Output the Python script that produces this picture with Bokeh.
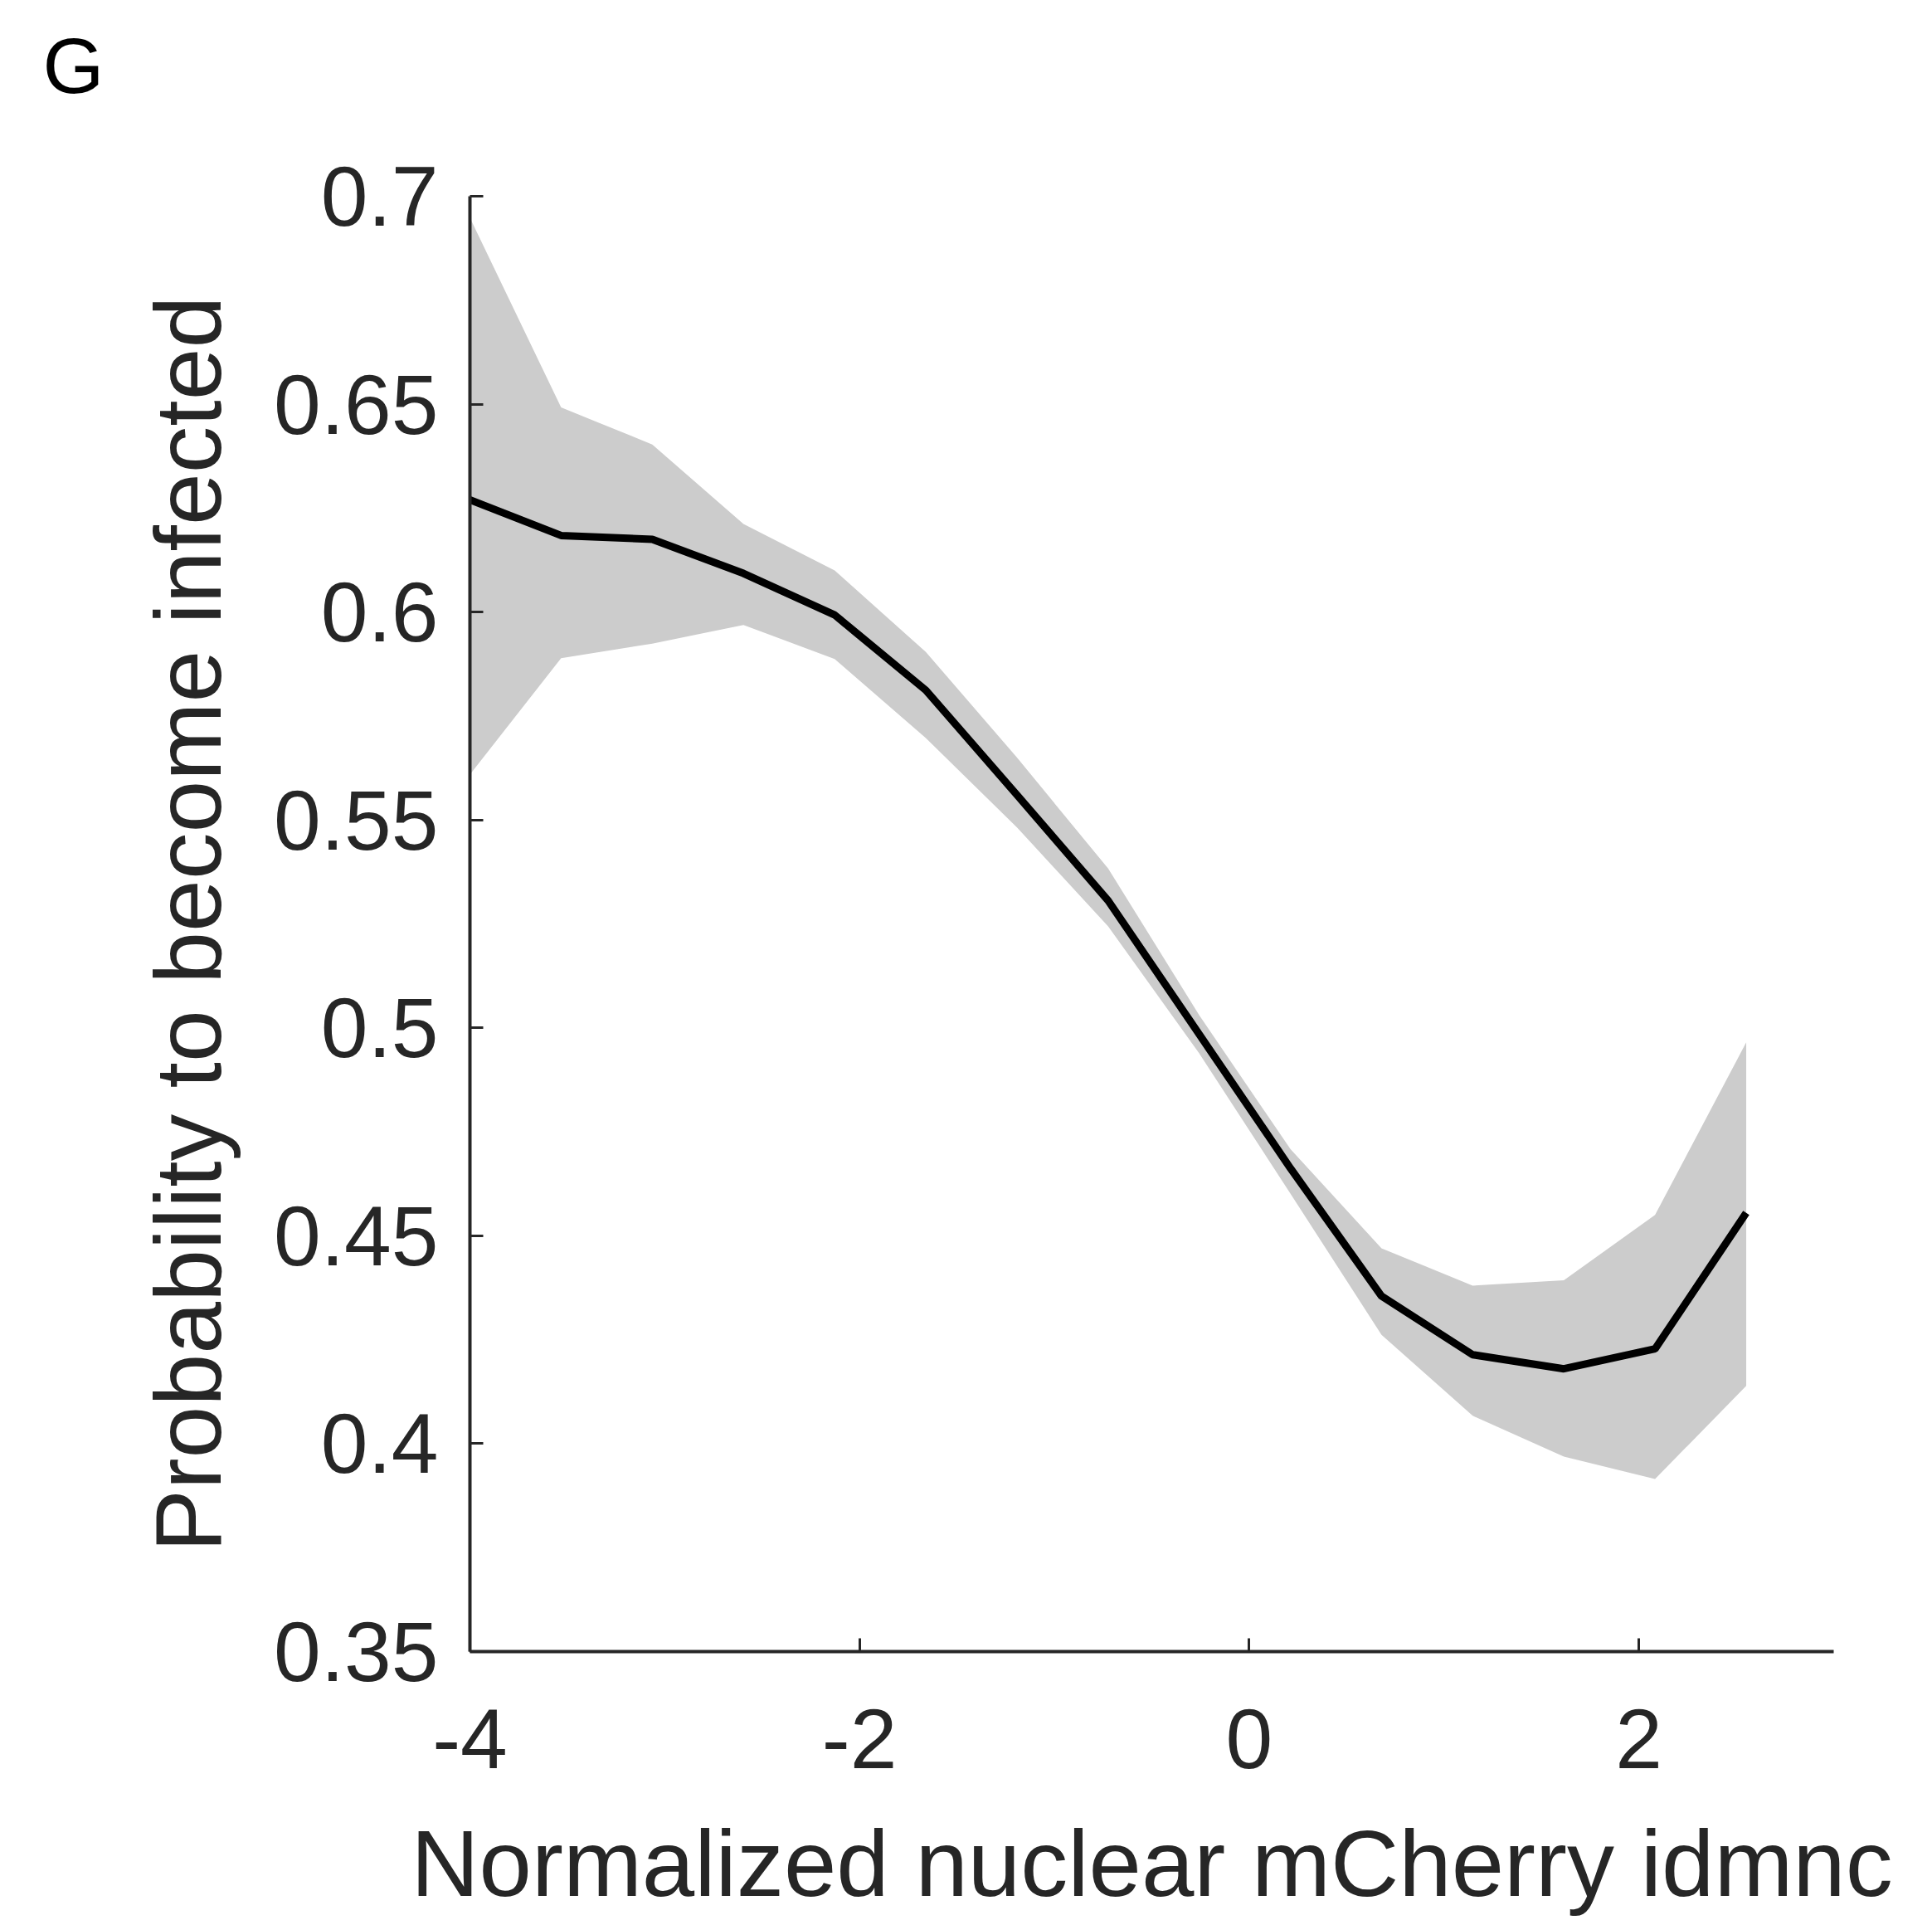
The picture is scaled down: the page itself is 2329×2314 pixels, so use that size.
from bokeh.plotting import figure
from bokeh.models import ColumnDataSource, Range1d, FixedTicker, Title, LinearAxis
from bokeh.embed import file_html
from bokeh.resources import INLINE

# ---- data ----
x_vals = [-4.0, -3.532, -3.064, -2.596, -2.128, -1.66, -1.192, -0.724,
          -0.256, 0.212, 0.679, 1.147, 1.615, 2.083, 2.551]
mean_prob = [0.627, 0.6184, 0.6175, 0.6093, 0.5993, 0.5812, 0.556, 0.5306,
             0.4984, 0.4662, 0.4355, 0.4214, 0.418, 0.4228, 0.4555]
upper_prob = [0.6948, 0.6492, 0.6403, 0.6212, 0.610, 0.5904, 0.565, 0.5383,
              0.503, 0.4708, 0.447, 0.438, 0.4393, 0.455, 0.4965]
lower_prob = [0.5609, 0.5889, 0.5924, 0.5969, 0.5887, 0.5697, 0.5482, 0.5244,
              0.4938, 0.4601, 0.4262, 0.4067, 0.3969, 0.3915, 0.4139]
x_ticks = [-4, -2, 0, 2]
x_tick_labels = ["-4", "-2", "0", "2"]
y_ticks = [0.35, 0.4, 0.45, 0.5, 0.55, 0.6, 0.65, 0.7]
y_tick_labels = ["0.35", "0.4", "0.45", "0.5", "0.55", "0.6", "0.65", "0.7"]
panel_letter = "G"

src = ColumnDataSource(dict(x=x_vals, m=mean_prob, up=upper_prob, lo=lower_prob))

FONT = "Liberation Sans"
AX = "#262626"

p = figure(width=2329, height=2314, output_backend="svg", toolbar_location=None,
           x_range=Range1d(-4, 3), y_range=Range1d(0.35, 0.7),
           min_border_left=566, min_border_right=119,
           min_border_top=236, min_border_bottom=324,
           background_fill_color="white", border_fill_color="white")
p.outline_line_color = None
p.grid.visible = False

xa = p.below[0]
ya = p.left[0]

p.varea(x="x", y1="lo", y2="up", source=src, fill_color="#cccccc", fill_alpha=1.0)
p.line(x="x", y="m", source=src, line_color="black", line_width=9)

for ax in (xa, ya):
    ax.axis_line_color = AX
    ax.axis_line_width = 4
    ax.major_tick_line_color = AX
    ax.major_tick_line_width = 3
    ax.major_tick_in = 16
    ax.major_tick_out = 0
    ax.minor_tick_line_color = None
    ax.major_label_text_font = FONT
    ax.major_label_text_color = AX
    ax.major_label_text_font_size = "102px"
    ax.axis_label_text_font = FONT
    ax.axis_label_text_color = AX
    ax.axis_label_text_font_style = "normal"

xa.ticker = FixedTicker(ticks=x_ticks)
xa.major_label_overrides = dict(zip(x_ticks, x_tick_labels))
ya.ticker = FixedTicker(ticks=y_ticks)
ya.major_label_overrides = dict(zip(y_ticks, y_tick_labels))

xa.axis_label = "Normalized nuclear mCherry idmnc"
xa.axis_label_text_font_size = "114px"
xa.major_label_standoff = 69
xa.axis_label_standoff = 48

ya.axis_label = "Probability to become infected"
ya.axis_label_text_font_size = "113px"
ya.major_label_standoff = 38
ya.axis_label_standoff = 37

# invisible spacer (one white tick, empty label) between the frame and the panel letter
spacer = LinearAxis(ticker=FixedTicker(ticks=[2.9]), axis_line_color=None,
                    major_tick_line_color="white", major_tick_line_width=1,
                    minor_tick_line_color=None,
                    major_tick_in=0, major_tick_out=98, minor_tick_in=0, minor_tick_out=0,
                    major_label_standoff=0, major_label_text_font_size="0px",
                    major_label_overrides={2.9: ""})
p.add_layout(spacer, "above")

p.title = Title(text=panel_letter, align="left", vertical_align="top",
                offset=-515, standoff=10, text_font=FONT, text_font_size="95px",
                text_font_style="normal", text_color="black")

open("out.html", "w").write(file_html(p, INLINE))
